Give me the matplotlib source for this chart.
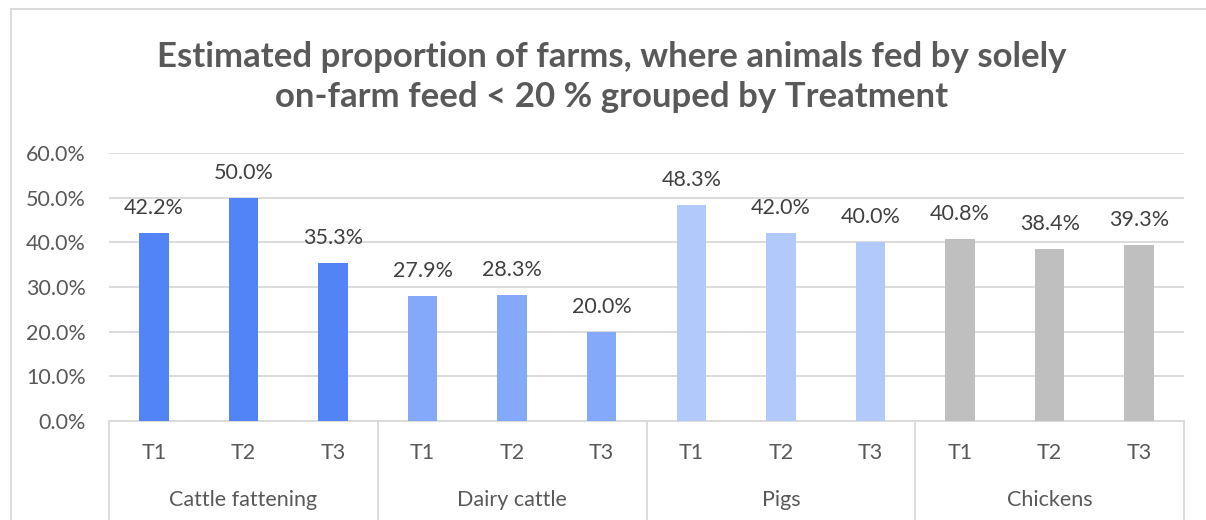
import matplotlib
matplotlib.use("Agg")
import matplotlib.pyplot as plt
import matplotlib.transforms as mtransforms

plt.rcParams['font.family'] = ['Lato', 'DejaVu Sans']

groups = ["Cattle fattening", "Dairy cattle", "Pigs", "Chickens"]
treatments = ["T1", "T2", "T3"]
values = [
    [42.2, 50.0, 35.3],   # Cattle fattening
    [27.9, 28.3, 20.0],   # Dairy cattle
    [48.3, 42.0, 40.0],   # Pigs
    [40.8, 38.4, 39.3],   # Chickens
]
colors = ["#5284F8", "#84A8FA", "#B2CAFB", "#BFBFBF"]
title = "Estimated proportion of farms, where animals fed by solely\non-farm feed < 20 % grouped by Treatment"

W, H = 1206, 520
fig = plt.figure(figsize=(W / 100, H / 100), dpi=100)
ax = fig.add_axes([109 / W, (H - 421) / H, 1075 / W, 268 / H])

text_col = "#595959"
grid_col = "#D9D9D9"
fs = 15.5

x = 0
for gi, g in enumerate(groups):
    for ti, t in enumerate(treatments):
        v = values[gi][ti]
        ax.bar(x, v, width=0.33, color=colors[gi], zorder=3)
        ax.annotate(f"{v:.1f}%", (x, v), xytext=(0, 18), textcoords="offset points",
                    ha="center", va="center", fontsize=fs, color="#404040")
        x += 1

n = x
ax.set_xlim(-0.5, n - 0.5)
ax.set_ylim(0, 60)
ax.set_yticks(range(0, 61, 10))
ax.set_yticklabels([f"{v:.1f}%" for v in range(0, 61, 10)], fontsize=fs, color=text_col)
ax.tick_params(axis="y", length=0, pad=16.5)
ax.yaxis.grid(True, color=grid_col, lw=1.3, zorder=0)
ax.set_xticks([])
for s in ["left", "right", "top"]:
    ax.spines[s].set_visible(False)
ax.spines["bottom"].set_color(grid_col)
ax.spines["bottom"].set_linewidth(1.3)

# multi-level category axis
trans = mtransforms.blended_transform_factory(ax.transData, ax.transAxes)
for i in range(n):
    ax.text(i, -0.12, treatments[i % 3], transform=trans, ha="center", va="center",
            fontsize=fs, color=text_col)
for gi, g in enumerate(groups):
    ax.text(gi * 3 + 1, -0.295, g, transform=trans, ha="center", va="center",
            fontsize=fs, color=text_col)
for b in [-0.5, 2.5, 5.5, 8.5, 11.5]:
    ax.plot([b, b], [0, -0.5], transform=trans, color=grid_col, lw=1.3, clip_on=False)

# chart area border (left and top visible)
fig.add_artist(plt.Line2D([10.5 / W, 10.5 / W], [0, (H - 9) / H], color=grid_col, lw=1.3))
fig.add_artist(plt.Line2D([10.5 / W, 1], [(H - 9) / H, (H - 9) / H], color=grid_col, lw=1.3))

fig.text(612 / W, (H - 77) / H, title, ha="center", va="center", fontsize=25,
         fontweight="bold", color=text_col, linespacing=1.3)

fig.savefig("out.png", dpi=100)
